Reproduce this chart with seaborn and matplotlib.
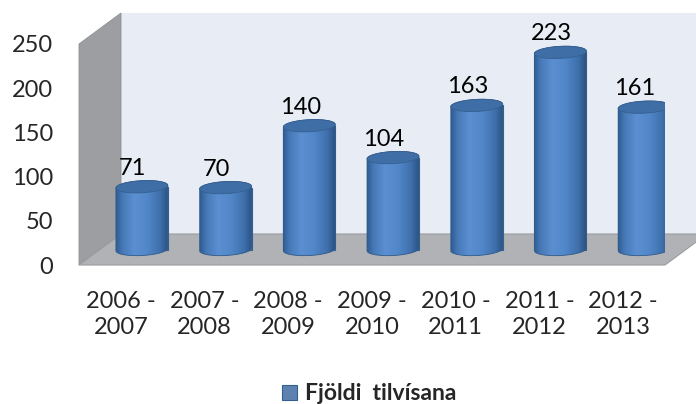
import numpy as np
import pandas as pd
import matplotlib
matplotlib.use("Agg")
import matplotlib.pyplot as plt
import seaborn as sns
from matplotlib.patches import Polygon
from matplotlib.colors import LinearSegmentedColormap

# data
periods = ["2006 -\n2007", "2007 -\n2008", "2008 -\n2009", "2009 -\n2010",
           "2010 -\n2011", "2011 -\n2012", "2012 -\n2013"]
counts = [71, 70, 140, 104, 163, 223, 161]
series_name = "Fjöldi  tilvísana"
y_ticks = [0, 50, 100, 150, 200, 250]

df = pd.DataFrame({"period": periods, "count": counts})

sns.set_style("white")
plt.rcParams["font.family"] = ["Lato", "DejaVu Sans"]

W, H, DPI = 696, 404, 100
fig = plt.figure(figsize=(W / DPI, H / DPI), dpi=DPI)
fig.patch.set_facecolor("white")
ax = fig.add_axes([79 / W, (H - 265) / H, 586 / W, 221 / H])
ax.set_facecolor("none")

sns.barplot(data=df, x="period", y="count", color="#4F81BD", width=0.62,
            edgecolor="#34608F", linewidth=0.8, errorbar=None, zorder=2, ax=ax)
bars = list(ax.patches)

ax.set_xlim(-0.5, len(periods) - 0.5)
ax.set_ylim(y_ticks[0], y_ticks[-1])
x0, x1 = ax.get_xlim()
y0, y1 = ax.get_ylim()

# legend before bars get moved
fig.legend([bars[0]], [series_name], loc="center", bbox_to_anchor=(0.531, 0.025),
           frameon=False, prop={"weight": "bold", "size": 16.5},
           handlelength=0.65, handleheight=0.65, handletextpad=0.35)

# pixels per data unit -> 3d depth offset in data units
pos = ax.get_position()
sx = pos.width * W / (x1 - x0)
sy = pos.height * H / (y1 - y0)
DX, DY = 42 / sx, 31 / sy

# walls and floor
back = Polygon([(x0 + DX, y0 + DY), (x1 + DX + 1, y0 + DY), (x1 + DX + 1, y1 + DY), (x0 + DX, y1 + DY)],
               fc="#E8ECF5", ec="none", zorder=0.1, clip_on=False)
side = Polygon([(x0, y0), (x0, y1), (x0 + DX, y1 + DY), (x0 + DX, y0 + DY)],
               fc="#9D9EA1", ec="#8E9093", lw=0.6, zorder=0.2, clip_on=False)
floor = Polygon([(x0, y0), (x1, y0), (x1 + DX, y0 + DY), (x0 + DX, y0 + DY)],
                fc="#B0B2B5", ec="#9A9C9F", lw=0.8, zorder=0.3, clip_on=False)
for p in (back, side, floor):
    ax.add_patch(p)

# cylinders
cmap = LinearSegmentedColormap.from_list(
    "cyl", [(0, "#2F5C92"), (0.12, "#4678B6"), (0.35, "#5B8FD1"),
            (0.6, "#5187C9"), (0.85, "#3F70AC"), (1, "#2C5283")])
grad = np.linspace(0, 1, 256)[None, :]
b_px = 6.0
tilt = np.deg2rad(3)
tt = np.linspace(0, 2 * np.pi, 120)

for bar, v in zip(bars, counts):
    bx = bar.get_x() + DX / 2
    by = y0 + DY / 2
    bw, bh = bar.get_width(), bar.get_height()
    bar.set_x(bx)
    bar.set_y(by)
    cx = bx + bw / 2
    a_px = bw * sx / 2

    def ell(t, yc):
        ex = a_px * np.cos(t) * np.cos(tilt) - b_px * np.sin(t) * np.sin(tilt)
        ey = a_px * np.cos(t) * np.sin(tilt) + b_px * np.sin(t) * np.cos(tilt)
        return np.column_stack([cx + ex / sx, yc + ey / sy])

    outline = np.vstack([ell(np.linspace(np.pi, 2 * np.pi, 60), by),
                         ell(np.linspace(0, np.pi, 60), by + bh)])
    body = Polygon(outline, closed=True, fc="none", ec="#2F5A8A", lw=0.6, zorder=2.2)
    ax.add_patch(body)
    im = ax.imshow(grad, cmap=cmap, aspect="auto", interpolation="bicubic",
                   extent=(bx, bx + bw, by - 2 * b_px / sy, by + bh + 2 * b_px / sy), zorder=2.1)
    im.set_clip_path(body)
    cap = Polygon(ell(tt, by + bh), closed=True, fc="#3F6EA7", ec="#35608F", lw=0.6, zorder=2.3)
    ax.add_patch(cap)
    ax.annotate(f"{v}", xy=(cx, by + bh), xytext=(-6.5, 8.6), textcoords="offset points",
                ha="center", va="baseline", fontsize=17, color="black", zorder=3)

ax.set_xlim(x0, x1)
ax.set_ylim(y0, y1)
ax.set_yticks(y_ticks)
ax.set_xticks(range(len(periods)))
ax.set_xticklabels(periods, linespacing=1.25)
ax.tick_params(axis="y", length=0, pad=18.5, labelsize=17)
ax.tick_params(axis="x", length=0, pad=19, labelsize=17)
ax.set_xlabel("")
ax.set_ylabel("")
for s in ax.spines.values():
    s.set_visible(False)

fig.savefig("out.png", dpi=DPI, facecolor="white")
